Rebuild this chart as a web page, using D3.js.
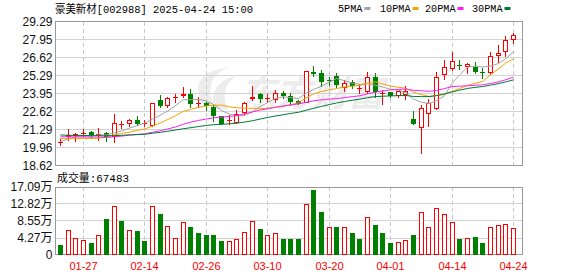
<!DOCTYPE html>
<html><head><meta charset="utf-8">
<script src="https://cdn.jsdelivr.net/npm/d3@7"></script>
<style>body{margin:0;background:#fff;}svg{display:block;}</style>
</head><body><svg id="c" width="578" height="276"></svg>
<script>
const dates = ["2025-01-22","2025-01-23","2025-01-24","2025-01-27","2025-02-05","2025-02-06","2025-02-07","2025-02-10","2025-02-11","2025-02-12",
"2025-02-13","2025-02-14","2025-02-17","2025-02-18","2025-02-19","2025-02-20","2025-02-21","2025-02-24","2025-02-25","2025-02-26",
"2025-02-27","2025-02-28","2025-03-03","2025-03-04","2025-03-05","2025-03-06","2025-03-07","2025-03-10","2025-03-11","2025-03-12",
"2025-03-13","2025-03-14","2025-03-17","2025-03-18","2025-03-19","2025-03-20","2025-03-21","2025-03-24","2025-03-25","2025-03-26",
"2025-03-27","2025-03-28","2025-03-31","2025-04-01","2025-04-02","2025-04-03","2025-04-07","2025-04-08","2025-04-09","2025-04-10",
"2025-04-11","2025-04-14","2025-04-15","2025-04-16","2025-04-17","2025-04-18","2025-04-21","2025-04-22","2025-04-23","2025-04-24"];
const opens = [20.36,20.80,20.87,20.98,21.03,20.87,21.01,20.75,21.66,21.75,
21.99,21.72,21.62,23.40,23.10,23.66,23.77,23.90,23.18,23.21,
22.92,22.25,21.94,21.84,22.55,23.55,23.88,23.56,23.53,23.99,
23.73,23.35,23.30,25.53,25.47,24.93,25.23,24.42,24.77,24.36,
24.09,25.16,23.97,24.01,23.79,23.88,22.04,21.45,22.49,22.86,
25.38,25.82,26.03,25.94,25.87,25.54,25.53,26.79,27.05,27.97];
const highs = [20.62,21.30,21.05,21.35,21.21,21.38,21.13,22.44,21.92,22.04,
22.29,21.99,23.27,23.84,23.67,23.90,24.46,24.27,23.67,23.36,
23.10,22.29,22.33,22.73,23.29,24.49,24.01,23.93,24.22,24.14,
23.99,23.47,25.55,25.99,25.70,25.20,25.50,24.96,24.96,24.66,
25.55,25.45,24.19,24.09,24.14,24.51,22.68,23.10,23.52,25.57,
26.44,27.01,26.44,26.19,26.31,25.82,27.01,27.55,28.22,28.42];
const lows = [20.14,20.51,20.41,20.81,20.66,20.51,20.44,20.38,21.38,21.57,
21.62,21.55,21.57,22.93,22.93,23.35,23.72,22.98,22.98,22.73,
21.92,21.70,21.70,21.75,22.47,23.47,23.35,23.29,23.35,23.62,
23.10,23.18,23.30,25.25,24.51,24.59,24.40,24.16,24.36,23.99,
23.99,23.72,23.20,23.72,23.70,23.55,21.73,19.57,21.55,22.78,
25.01,25.70,25.75,25.50,25.50,25.08,25.38,26.31,26.73,27.68];
const closes = [20.36,20.81,20.88,20.99,20.88,20.89,20.75,21.70,21.66,21.97,
21.74,21.72,23.23,23.05,23.60,23.67,23.90,23.23,23.18,23.03,
22.29,21.73,21.95,22.42,23.23,23.66,23.56,23.57,23.97,23.79,
23.35,23.23,25.55,25.42,24.88,24.91,24.59,24.71,24.55,24.36,
25.16,24.09,23.97,23.77,24.07,24.14,21.73,22.86,23.23,25.16,
25.90,26.36,26.02,26.07,25.62,25.53,26.68,26.93,27.87,28.22];
const volumes = [25000,62000,42000,37000,28000,49000,88000,121000,85000,62000,
58000,33000,121000,103000,72000,42000,82000,68000,53000,48000,
50000,33000,34000,39000,57000,85000,65000,49000,54000,40000,
38000,38000,126000,161000,108000,70000,70000,68000,53000,40000,
95000,75000,55000,30000,32000,37000,50000,107000,68000,118000,
101000,82000,40000,42000,43000,28000,68000,75000,77000,67483];
// closes of the 29 sessions before the window (estimated from the MA lines)
const priorCloses = [21.3,21.2,21.3,21.1,21.2,21.1,21.0,21.1,21.0,21.1,
20.9,21.0,21.1,21.0,21.0,21.1,20.9,20.6,20.6,20.6,
20.95,20.85,20.80,20.90,20.80,19.81,20.03,20.69,21.01];
const priceTicks = ["29.29","27.95","26.62","25.29","23.95","22.62","21.29","19.96","18.62"];
const volTicks = ["17.09万","12.82万","8.55万","4.27万","0"];
const volTickValues = [170900,128200,85500,42700,0];
const xTickDates = ["2025-01-27","2025-02-14","2025-02-26","2025-03-10","2025-03-20","2025-04-01","2025-04-14","2025-04-24"];
const maPeriods = [5,10,20,30];
const maNames = ["5PMA","10PMA","20PMA","30PMA"];
const maColors = ["#a3a3a3","#f3a400","#ff20f0","#00793a"];
const title = "豪美新材[002988] 2025-04-24 15:00";
const volTitle = "成交量:67483";

const UP="#ff0000", DOWN="#008000", GRID="#d3d3d3", FRAME="#999";
const svg = d3.select("#c");
const x = d3.scaleBand().domain(dates).range([56.5, 517.3]);
const cx = d => Math.floor(x(d) + x.bandwidth()/2) + 0.5;
const y = d3.scaleLinear().domain([18.62, 29.29]).range([165.5, 21.5]);
const yv = d3.scaleLinear().domain([0, 170900]).range([255, 187]);
const idx = d3.range(dates.length);
const px = v => Math.floor(v) + 0.5;

// watermark
const wm = svg.append("g").attr("fill","#ececec");
wm.append("path").attr("d","M203,104 C192,86 200,70 228,68 C212,74 206,86 214,106 Z");
wm.append("path").attr("d","M214,108 C210,92 218,80 236,76 C224,84 222,96 228,110 Z");
wm.append("text").attr("x",240).attr("y",106).attr("font-family","Noto Sans CJK SC")
  .attr("font-weight","bold").attr("font-size",36).attr("font-style","italic").text("东方财富");

// grids
const grid = svg.append("g");
priceTicks.slice(1,-1).forEach(t=>{
  grid.append("line").attr("x1",56).attr("x2",522).attr("y1",px(y(+t))).attr("y2",px(y(+t)))
    .attr("stroke",GRID);
});
volTickValues.slice(1,-1).forEach(v=>{
  grid.append("line").attr("x1",56).attr("x2",522).attr("y1",px(yv(v))).attr("y2",px(yv(v)))
    .attr("stroke",GRID);
});
xTickDates.forEach(d=>{
  [[22,165],[187,255]].forEach(([a,b])=>{
    grid.append("line").attr("x1",cx(d)).attr("x2",cx(d)).attr("y1",a).attr("y2",b)
      .attr("stroke","#c8c8c8").attr("stroke-dasharray","4,3");
  });
});

// frames
svg.append("rect").attr("x",55.5).attr("y",21.5).attr("width",467).attr("height",144)
  .attr("fill","none").attr("stroke",FRAME);
svg.append("rect").attr("x",55.5).attr("y",187.5).attr("width",467).attr("height",67)
  .attr("fill","none").attr("stroke",FRAME);

// candles
const cg = svg.append("g").selectAll("g").data(idx).join("g");
cg.each(function(i){
  const g = d3.select(this);
  const up = closes[i] >= opens[i];
  const col = up ? UP : DOWN;
  const c = cx(dates[i]);
  g.append("line").attr("x1",c).attr("x2",c).attr("y1",Math.round(y(highs[i]))).attr("y2",Math.round(y(lows[i]))+1)
    .attr("stroke",col);
  const t = px(Math.min(y(opens[i]),y(closes[i])));
  const b = px(Math.max(y(opens[i]),y(closes[i])));
  if (b - t < 1) {
    g.append("line").attr("x1",c-2.5).attr("x2",c+2.5).attr("y1",t).attr("y2",t).attr("stroke",col);
  } else {
    g.append("rect").attr("x",c-2).attr("y",t).attr("width",4).attr("height",b-t)
      .attr("fill",up?"#fff":DOWN).attr("stroke",col);
  }
});

// moving averages
const all = priorCloses.concat(closes);
const off = priorCloses.length;
maPeriods.forEach((n,k)=>{
  const vals = idx.map(i=>d3.mean(all.slice(off+i-n+1, off+i+1)));
  svg.append("path").datum(vals)
    .attr("d", d3.line().x((v,i)=>x(dates[i])+x.bandwidth()/2).y(v=>y(v)))
    .attr("fill","none").attr("stroke",maColors[k]).attr("stroke-width",1);
});

// volume bars
svg.append("g").selectAll("rect").data(idx).join("rect")
  .each(function(i){
    const prev = i===0 ? priorCloses[priorCloses.length-1] : closes[i-1];
    const up = closes[i] >= prev;
    const c = cx(dates[i]);
    const t = px(yv(volumes[i]));
    d3.select(this).attr("x",c-2).attr("y",t).attr("width",4).attr("height",254.5-t)
      .attr("fill",up?"#fff":DOWN).attr("stroke",up?UP:DOWN);
  });

// axis labels
const lab = svg.append("g").attr("font-family","Liberation Sans, Arial, sans-serif").attr("font-size",12).attr("fill","#111");
priceTicks.forEach(t=>{
  lab.append("text").attr("x",52.5).attr("y",y(+t)+4.5).attr("text-anchor","end").text(t);
});
volTicks.forEach((t,k)=>{
  lab.append("text").attr("x",52.5).attr("y",yv(volTickValues[k])+4).attr("text-anchor","end")
    .attr("font-family","Liberation Sans, Noto Sans CJK SC, sans-serif").text(t);
});
xTickDates.forEach(d=>{
  svg.append("text").attr("x",cx(d)).attr("y",270).attr("text-anchor","middle")
    .attr("font-family","Liberation Sans, Arial, sans-serif").attr("font-size",11).attr("fill","#f00")
    .text(d.slice(5));
});

// title & legend
svg.append("text").attr("x",55).attr("y",13).attr("font-family","Liberation Mono, Noto Sans CJK SC, monospace")
  .attr("font-size",11.5).attr("fill","#000").attr("textLength",198).attr("lengthAdjust","spacingAndGlyphs").text(title);
svg.append("text").attr("x",57).attr("y",182).attr("font-family","Liberation Mono, Noto Sans CJK SC, monospace")
  .attr("font-size",11.5).attr("fill","#000").attr("textLength",72).attr("lengthAdjust","spacingAndGlyphs").text(volTitle);
const legX = [338,380,425,472];
maNames.forEach((nm,k)=>{
  const w = nm.length*6.1;
  svg.append("text").attr("x",legX[k]).attr("y",12).attr("font-family","Liberation Mono, monospace")
    .attr("font-size",10.5).attr("fill","#000").attr("textLength",w).attr("lengthAdjust","spacingAndGlyphs").text(nm);
  svg.append("rect").attr("x",legX[k]+w+2).attr("y",7).attr("width",6).attr("height",3).attr("fill",maColors[k]);
});
</script></body></html>
